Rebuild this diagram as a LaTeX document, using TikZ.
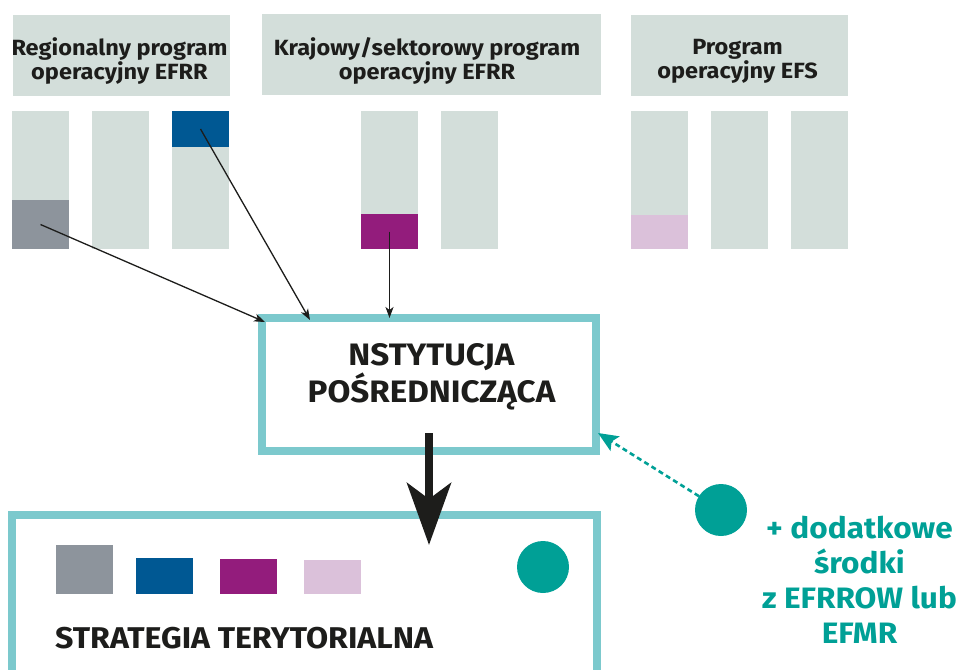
\documentclass[tikz,border=0pt]{standalone}
\usepackage{fontspec}
\setmainfont{Fira Sans}[FakeStretch=1.07]
\usetikzlibrary{arrows.meta,calc}
\definecolor{barc}{HTML}{D3DEDA}
\definecolor{ink}{HTML}{1D1D1B}
\definecolor{grayseg}{HTML}{8D949C}
\definecolor{blueseg}{HTML}{005893}
\definecolor{purpleseg}{HTML}{931C7C}
\definecolor{pinkseg}{HTML}{DBC1DA}
\definecolor{tealb}{HTML}{7CC9CD}
\definecolor{teald}{HTML}{00A096}
\begin{document}
\begin{tikzpicture}[x=1pt,y=-1pt,
  hdrbox/.style={fill=barc, draw=none, inner sep=0, outer sep=0, minimum height=81pt},
  hdrtxt/.style={inner sep=0, text=ink, align=center, font=\fontsize{22}{24}\selectfont\bfseries},
  barbox/.style={fill=barc, draw=none, inner sep=0, outer sep=0, minimum width=57pt, minimum height=138pt},
  segbox/.style={draw=none, inner sep=0, outer sep=0, minimum width=57pt},
  framebox/.style={draw=tealb, line width=8pt, fill=none, inner sep=0, outer sep=0},
  bigtxt/.style={inner sep=0, text=ink, align=center, font=\fontsize{31}{37}\selectfont\bfseries},
  thinarrow/.style={draw=ink, line width=1.3pt, -{Stealth[length=11pt,width=8pt,inset=3pt]}},
  bigarrow/.style={draw=ink, line width=8pt, -{Stealth[length=62pt,width=44pt,inset=16pt]}},
  dasharrow/.style={draw=teald, line width=2.6pt, dash pattern=on 5pt off 3.5pt, -{Stealth[length=20pt,width=17pt,inset=4pt]}},
  dot/.style={circle, fill=teald, draw=none, minimum size=52pt, inner sep=0, outer sep=0},
]
\useasboundingbox (0,0) rectangle (960,669);
\clip (0,0) rectangle (960,669);

% header boxes
\node[hdrbox, minimum width=217pt] (h1) at (121.5,55.5) {};
\node[hdrbox, minimum width=339pt] (h2) at (431.5,54.5) {};
\node[hdrbox, minimum width=217pt] (h3) at (739.5,55.5) {};
\node[hdrtxt] (h1t) at (119.5,61) {Regionalny program\\operacyjny EFRR};
\node[hdrtxt] (h2t) at (427,61) {Krajowy/sektorowy program\\operacyjny EFRR};
\node[hdrtxt] (h3t) at (737.5,61) {Program\\operacyjny EFS};

% bars
\foreach \x/\n in {12/b1,92/b2,172/b3,361/b4,441/b5,631/b6,711/b7,791/b8}
  \node[barbox, anchor=north west] (\n) at (\x,111) {};

% coloured segments
\node[segbox, fill=grayseg, minimum height=49pt, anchor=south west] (gr) at (12,249) {};
\node[segbox, fill=blueseg, minimum height=36pt, anchor=north west] (bl) at (172,111) {};
\node[segbox, fill=purpleseg, minimum height=35pt, anchor=south west] (pu) at (361,249) {};
\node[segbox, fill=pinkseg, minimum height=34pt, anchor=south west] (pk) at (631,249) {};

% intermediate body
\node[framebox, minimum width=334pt, minimum height=133pt] (ip) at (429,384.5) {};
\node[bigtxt] (ipt) at (431.5,377) {NSTYTUCJA\\POŚREDNICZĄCA};

% territorial strategy
\node[framebox, minimum width=585pt, minimum height=205pt] (st) at (304,617.5) {};
\node[segbox, fill=grayseg, minimum height=49pt, anchor=north west] (s1) at (56,545) {};
\node[segbox, fill=blueseg, minimum height=36pt, anchor=south west] (s2) at (136,594) {};
\node[segbox, fill=purpleseg, minimum height=35pt, anchor=south west] (s3) at (220,594) {};
\node[segbox, fill=pinkseg, minimum height=34pt, anchor=south west] (s4) at (304,594) {};
\node[dot] (c1) at (543,567) {};
\node[inner sep=0, anchor=base west, text=ink, font=\fontsize{30}{36}\selectfont\bfseries] (stt) at (55,648) {STRATEGIA TERYTORIALNA};

% extra funds
\node[dot] (ex) at (721,510) {};
\node[inner sep=0, align=center, text=teald, font=\fontsize{29.5}{35}\selectfont\bfseries] (ext) at (859.5,580) {+ dodatkowe\\środki\\z EFRROW lub\\EFMR};

% connectors
\draw[thinarrow] (gr.center) -- ($(ip.north west)+(3,4)$);
\draw[thinarrow] (bl.center) -- ($(ip.north west)+(48,2)$);
\draw[thinarrow] (pu.center) -- (pu.center |- ip.north);
\draw[bigarrow] ($(ip.south)+(0,-18)$) -- ($(ip.south |- st.north)+(0,30)$);
\draw[dasharrow] (ex) -- ($(ip.south east)+(2,-18)$);
\end{tikzpicture}
\end{document}
